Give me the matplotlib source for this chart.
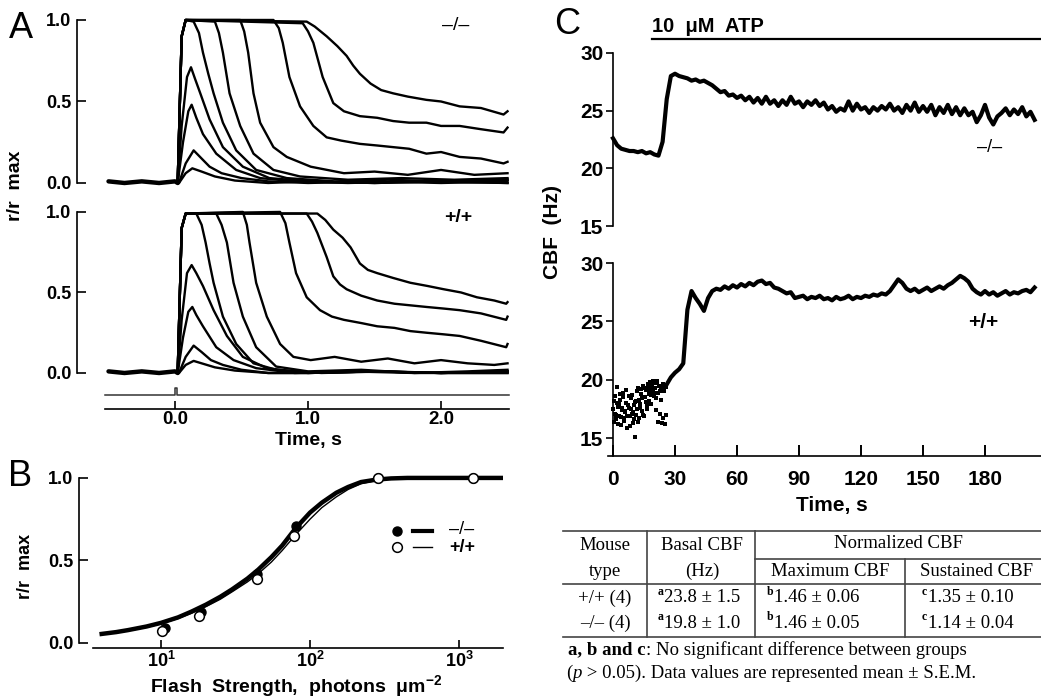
import numpy as np
import matplotlib
matplotlib.use("Agg")
import matplotlib.pyplot as plt
from matplotlib.lines import Line2D
import matplotlib.transforms as mtransforms

plt.rcParams['font.family'] = ['Liberation Sans', 'DejaVu Sans']
plt.rcParams['mathtext.fontset'] = 'custom'
plt.rcParams['mathtext.rm'] = 'Liberation Sans'
plt.rcParams['mathtext.bf'] = 'Liberation Sans:bold'
plt.rcParams['mathtext.it'] = 'Liberation Sans:italic'

# ---------------- Panel A data (normalized photoresponses, r/rmax) ----------------
base_t = [-0.50, -0.38, -0.25, -0.12, 0.0, 0.02]
base_r = [0.01, 0.0, 0.01, 0.0, 0.01, 0.0]

# -/- traces (top)
ko1_t = [0.03, 0.08, 0.13, 0.2, 0.3, 0.45, 0.7, 1.0, 1.5, 2.0, 2.5]
ko1_r = [0.0, 0.06, 0.09, 0.07, 0.04, 0.015, 0.0, 0.01, 0.0, 0.01, 0.0]
ko2_t = [0.03, 0.08, 0.14, 0.2, 0.26, 0.35, 0.5, 0.7, 1.0, 1.5, 2.0, 2.5]
ko2_r = [0.0, 0.12, 0.20, 0.15, 0.10, 0.06, 0.03, 0.01, 0.0, 0.01, 0.0, 0.01]
ko3_t = [0.02, 0.06, 0.10, 0.125, 0.16, 0.21, 0.31, 0.46, 0.64, 0.9, 1.3, 1.8, 2.5]
ko3_r = [0.0, 0.25, 0.44, 0.48, 0.40, 0.30, 0.18, 0.08, 0.03, 0.01, 0.0, 0.01, 0.0]
ko4_t = [0.02, 0.05, 0.09, 0.12, 0.15, 0.19, 0.26, 0.36, 0.51, 0.71, 1.0, 1.5, 2.0, 2.5]
ko4_r = [0.0, 0.35, 0.65, 0.71, 0.64, 0.55, 0.39, 0.22, 0.10, 0.03, 0.01, 0.0, 0.01, 0.02]
ko5_t = [0.02, 0.05, 0.08, 0.14, 0.18, 0.21, 0.25, 0.29, 0.36, 0.46, 0.61, 0.84, 1.2, 1.6, 2.0, 2.5]
ko5_r = [0.0, 0.9, 1.0, 0.99, 0.92, 0.80, 0.67, 0.55, 0.37, 0.20, 0.08, 0.03, 0.01, 0.02, 0.01, 0.02]
ko6_t = [0.02, 0.05, 0.08, 0.30, 0.33, 0.36, 0.41, 0.49, 0.59, 0.74, 0.94, 1.3, 1.7, 2.1, 2.5]
ko6_r = [0.0, 0.9, 1.0, 0.99, 0.92, 0.80, 0.55, 0.35, 0.18, 0.08, 0.04, 0.02, 0.03, 0.02, 0.03]
ko7_t = [0.02, 0.05, 0.08, 0.49, 0.52, 0.55, 0.59, 0.64, 0.74, 0.84, 1.02, 1.27, 1.5, 1.75, 2.0, 2.25, 2.5]
ko7_r = [0.0, 0.9, 1.0, 1.0, 0.93, 0.80, 0.55, 0.37, 0.22, 0.16, 0.10, 0.06, 0.07, 0.05, 0.08, 0.05, 0.06]
ko8_t = [0.02, 0.05, 0.08, 0.74, 0.78, 0.81, 0.86, 0.94, 1.04, 1.14, 1.25, 1.39, 1.52, 1.64,
         1.76, 1.89, 2.0, 2.14, 2.3, 2.47, 2.5]
ko8_r = [0.0, 0.9, 1.0, 1.0, 0.95, 0.86, 0.65, 0.47, 0.35, 0.28, 0.26, 0.24, 0.23, 0.22,
         0.21, 0.18, 0.19, 0.16, 0.15, 0.12, 0.13]
ko9_t = [0.02, 0.05, 0.08, 0.96, 1.0, 1.04, 1.11, 1.19, 1.27, 1.39, 1.52, 1.64, 1.76, 1.89,
         2.0, 2.14, 2.3, 2.47, 2.5]
ko9_r = [0.0, 0.9, 1.0, 0.98, 0.93, 0.86, 0.65, 0.49, 0.44, 0.41, 0.40, 0.38, 0.37, 0.37,
         0.35, 0.35, 0.33, 0.31, 0.34]
ko10_t = [0.02, 0.05, 0.08, 0.99, 1.05, 1.14, 1.22, 1.29, 1.34, 1.39, 1.47, 1.55, 1.64, 1.75,
          1.89, 2.0, 2.14, 2.3, 2.47, 2.5]
ko10_r = [0.0, 0.9, 1.0, 0.99, 0.96, 0.90, 0.84, 0.78, 0.72, 0.67, 0.61, 0.57, 0.55, 0.53,
          0.51, 0.50, 0.47, 0.46, 0.42, 0.44]

# +/+ traces (bottom)
wt1_t = [0.03, 0.08, 0.14, 0.2, 0.3, 0.45, 0.7, 1.0, 1.5, 2.0, 2.5]
wt1_r = [0.0, 0.05, 0.075, 0.06, 0.035, 0.015, 0.0, 0.0, 0.01, 0.0, 0.0]
wt2_t = [0.03, 0.08, 0.14, 0.2, 0.27, 0.36, 0.5, 0.7, 1.0, 1.5, 2.0, 2.5]
wt2_r = [0.0, 0.10, 0.17, 0.13, 0.08, 0.05, 0.02, 0.0, 0.0, 0.01, 0.0, 0.01]
wt3_t = [0.02, 0.06, 0.10, 0.13, 0.16, 0.21, 0.31, 0.44, 0.61, 0.9, 1.3, 1.8, 2.5]
wt3_r = [0.0, 0.22, 0.38, 0.41, 0.36, 0.29, 0.16, 0.08, 0.03, 0.0, 0.01, 0.0, 0.0]
wt4_t = [0.02, 0.05, 0.09, 0.125, 0.16, 0.21, 0.29, 0.39, 0.51, 0.69, 1.0, 1.5, 2.0, 2.5]
wt4_r = [0.0, 0.33, 0.62, 0.67, 0.62, 0.54, 0.39, 0.23, 0.10, 0.03, 0.0, 0.01, 0.0, 0.01]
wt5_t = [0.02, 0.05, 0.08, 0.16, 0.2, 0.23, 0.26, 0.29, 0.36, 0.46, 0.59, 0.76, 1.1, 1.6, 2.0, 2.5]
wt5_r = [0.0, 0.9, 0.99, 0.99, 0.92, 0.81, 0.68, 0.56, 0.35, 0.18, 0.06, 0.02, 0.0, 0.01, 0.0, 0.01]
wt6_t = [0.02, 0.05, 0.08, 0.31, 0.35, 0.39, 0.44, 0.51, 0.61, 0.76, 1.0, 1.4, 1.8, 2.2, 2.5]
wt6_r = [0.0, 0.9, 0.99, 0.99, 0.92, 0.81, 0.56, 0.35, 0.16, 0.04, 0.01, 0.02, 0.0, 0.01, 0.02]
wt7_t = [0.02, 0.05, 0.08, 0.51, 0.54, 0.56, 0.61, 0.69, 0.79, 0.89, 1.02, 1.2, 1.4, 1.6, 1.8,
         2.0, 2.2, 2.4, 2.5]
wt7_r = [0.0, 0.9, 0.99, 1.0, 0.92, 0.81, 0.56, 0.35, 0.18, 0.10, 0.08, 0.10, 0.07, 0.09, 0.06,
         0.08, 0.06, 0.05, 0.06]
wt8_t = [0.02, 0.05, 0.08, 0.79, 0.83, 0.86, 0.91, 0.99, 1.09, 1.18, 1.27, 1.4, 1.52, 1.65,
         1.77, 1.89, 2.02, 2.14, 2.3, 2.49, 2.5]
wt8_r = [0.0, 0.9, 0.99, 1.0, 0.93, 0.81, 0.62, 0.47, 0.39, 0.35, 0.33, 0.31, 0.29, 0.28,
         0.26, 0.25, 0.24, 0.23, 0.20, 0.16, 0.18]
wt9_t = [0.02, 0.05, 0.08, 0.99, 1.03, 1.07, 1.14, 1.19, 1.24, 1.29, 1.4, 1.52, 1.65, 1.77,
         1.89, 2.02, 2.14, 2.3, 2.49, 2.5]
wt9_r = [0.0, 0.9, 0.99, 0.99, 0.94, 0.87, 0.72, 0.60, 0.55, 0.52, 0.48, 0.45, 0.43, 0.42,
         0.41, 0.40, 0.39, 0.37, 0.33, 0.35]
wt10_t = [0.02, 0.05, 0.08, 1.07, 1.13, 1.19, 1.26, 1.32, 1.39, 1.45, 1.52, 1.64, 1.77, 1.9,
          2.02, 2.15, 2.27, 2.4, 2.49, 2.5]
wt10_r = [0.0, 0.9, 0.99, 0.99, 0.95, 0.89, 0.84, 0.78, 0.68, 0.64, 0.62, 0.59, 0.56, 0.54,
          0.52, 0.50, 0.47, 0.45, 0.43, 0.44]

flash_on, flash_off = 0.0, 0.012   # s, stimulus flash

# ---------------- Panel B data (intensity-response) ----------------
fit_I = [4, 5, 6, 8, 10, 13, 16, 20, 25, 30, 38, 45, 55, 65, 80, 100, 120, 150, 180, 220,
         280, 350, 450, 700, 2000]
ko_fit_r = [0.055, 0.066, 0.078, 0.10, 0.122, 0.155, 0.19, 0.232, 0.28, 0.325, 0.39, 0.445,
            0.52, 0.59, 0.695, 0.79, 0.85, 0.91, 0.945, 0.975, 0.99, 0.997, 1.0, 1.0, 1.0]
wt_fit_r = [0.052, 0.063, 0.074, 0.095, 0.116, 0.148, 0.18, 0.22, 0.265, 0.31, 0.37, 0.42,
            0.49, 0.56, 0.655, 0.75, 0.82, 0.885, 0.93, 0.965, 0.985, 0.995, 1.0, 1.0, 1.0]
ko_pts_I = [10.6, 18.5, 44, 80, 285, 1250]
ko_pts_r = [0.09, 0.185, 0.42, 0.71, 1.0, 1.0]
wt_pts_I = [10.2, 18, 44, 78, 285, 1250]
wt_pts_r = [0.075, 0.165, 0.39, 0.65, 1.0, 1.0]

# ---------------- Panel C data (ciliary beat frequency, Hz) ----------------
atp_start = 19.0
ko_cbf_dt = 2.0
ko_cbf = [22.6, 22.0, 21.7, 21.6, 21.5, 21.5, 21.4, 21.5, 21.3, 21.4,
          21.2, 21.1, 22.3, 26.0, 28.0, 28.2, 28.0, 27.9, 27.8, 27.6,
          27.7, 27.5, 27.6, 27.4, 27.2, 26.9, 26.6, 26.7, 26.3, 26.4,
          26.1, 26.3, 25.9, 26.2, 25.7, 26.1, 25.6, 26.2, 25.6, 25.9,
          25.4, 25.9, 25.5, 26.2, 25.6, 25.8, 25.3, 25.8, 25.5, 25.9,
          25.4, 25.7, 25.1, 25.4, 24.9, 25.2, 25.0, 25.8, 25.0, 25.6,
          25.1, 25.3, 24.8, 25.3, 25.0, 25.4, 25.1, 25.6, 25.0, 25.3,
          24.8, 25.5, 25.0, 25.7, 24.9, 25.4, 24.9, 25.5, 24.6, 25.3,
          24.8, 25.5, 24.7, 25.3, 24.6, 25.2, 24.6, 24.9, 24.0, 24.6,
          25.5, 24.4, 23.8, 24.5, 24.8, 25.2, 24.6, 25.1, 24.7, 25.3,
          24.5, 24.9, 24.2]

wt_basal_dt = 0.5
wt_basal_a = [17.5, 16.4, 18.6, 17.0, 19.4, 16.2, 17.9, 18.3, 16.8, 17.4,
              18.9, 16.5, 17.2, 18.0, 15.9, 17.6, 16.9, 18.4, 17.1, 16.3,
              17.8, 15.1, 18.2, 17.5, 19.3, 16.7, 17.9, 18.8, 17.3, 19.5,
              16.9, 18.5, 19.1, 17.8, 19.4, 18.2, 19.8, 18.7, 19.6, 19.9,
              18.9, 19.3, 17.4, 19.7, 16.4, 19.0, 18.3, 19.5, 16.7, 19.2,
              16.2, 19.4]
wt_basal_b = [18.2, 17.1, 16.6, 18.0, 17.7, 16.9, 18.8, 16.1, 17.6, 18.5,
              16.7, 17.3, 19.1, 16.9, 17.8, 18.6, 16.0, 17.5, 18.7, 17.2,
              16.6, 18.1, 17.0, 19.0, 16.4, 18.3, 17.6, 19.2, 18.4, 17.0,
              19.3, 18.1, 17.5, 19.6, 18.8, 19.1, 17.9, 19.4, 19.0, 18.6,
              19.7, 18.4, 19.9, 18.9, 19.5, 17.1, 19.3, 16.3, 19.6, 19.0,
              19.4, 17.0]
wt_cbf_start = 26.0
wt_cbf_dt = 2.0
wt_cbf = [19.6, 20.2, 20.6, 20.9, 21.4, 26.0, 27.6, 27.0, 26.5, 25.9,
          27.0, 27.6, 27.8, 27.7, 28.0, 27.8, 28.1, 27.9, 28.2, 28.0,
          28.3, 28.1, 28.4, 28.5, 28.2, 28.3, 27.9, 27.8, 27.6, 27.4,
          27.5, 27.0, 27.1, 27.2, 26.9, 27.1, 27.0, 27.2, 26.9, 27.0,
          26.8, 27.1, 26.9, 27.0, 27.2, 26.9, 27.1, 27.0, 27.2, 27.1,
          27.3, 27.2, 27.4, 27.3, 27.6, 28.1, 28.6, 28.3, 27.8, 27.6,
          27.8, 27.5, 27.7, 27.9, 27.6, 27.8, 28.0, 27.8, 28.1, 28.3,
          28.6, 28.9, 28.7, 28.4, 27.8, 27.5, 27.3, 27.6, 27.3, 27.5,
          27.2, 27.4, 27.6, 27.3, 27.5, 27.4, 27.6, 27.7, 27.5, 27.9]

# ---------------- Table data ----------------
tbl_mouse = ['+/+ (4)', '\u2013/\u2013 (4)']
tbl_basal = ['23.8 \u00b1 1.5', '19.8 \u00b1 1.0']
tbl_max = ['1.46 \u00b1 0.06', '1.46 \u00b1 0.05']
tbl_sust = ['1.35 \u00b1 0.10', '1.14 \u00b1 0.04']

# =====================================================================
W, H = 1041, 699
fig = plt.figure(figsize=(W / 100, H / 100), dpi=100)


def add_ax(l, t, r, b):
    return fig.add_axes([l / W, 1 - b / H, (r - l) / W, (b - t) / H])


def ftext(x, y, s, **kw):
    kw.setdefault('ha', 'center')
    kw.setdefault('va', 'center')
    return fig.text(x / W, 1 - y / H, s, **kw)


def fline(xs, ys, **kw):
    fig.add_artist(Line2D([x / W for x in xs], [1 - y / H for y in ys], **kw))


BOLD = dict(fontweight='bold')
LW_AX = 1.2

# ---------------- Panel A ----------------
ko_traces = [(ko1_t, ko1_r), (ko2_t, ko2_r), (ko3_t, ko3_r), (ko4_t, ko4_r), (ko5_t, ko5_r),
             (ko6_t, ko6_r), (ko7_t, ko7_r), (ko8_t, ko8_r), (ko9_t, ko9_r), (ko10_t, ko10_r)]
wt_traces = [(wt1_t, wt1_r), (wt2_t, wt2_r), (wt3_t, wt3_r), (wt4_t, wt4_r), (wt5_t, wt5_r),
             (wt6_t, wt6_r), (wt7_t, wt7_r), (wt8_t, wt8_r), (wt9_t, wt9_r), (wt10_t, wt10_r)]

axA1 = add_ax(77, 12, 509, 190)
axA2 = add_ax(77, 205, 509, 409)
axA1.set_ylim(-0.043, 1.049)
axA2.set_ylim(-0.2236, 1.043)
for ax, traces in ((axA1, ko_traces), (axA2, wt_traces)):
    ax.set_xlim(-0.737, 2.511)
    ax.plot(base_t, base_r, color='black', lw=3.2, solid_capstyle='round')
    for tt, rr in traces:
        ax.plot(base_t + tt, base_r + rr, color='black', lw=1.7)
    for s in ('top', 'right'):
        ax.spines[s].set_visible(False)
    ax.spines['left'].set_bounds(0, 1)
    ax.spines['left'].set_linewidth(LW_AX)
    ax.set_yticks([0, 0.5, 1.0])
    ax.set_yticklabels(['0.0', '0.5', '1.0'], fontweight='bold')
    ax.tick_params(axis='y', direction='in', length=6.5, width=LW_AX, labelsize=13, pad=4)
axA1.spines['bottom'].set_visible(False)
axA1.set_xticks([])
axA2.spines['bottom'].set_bounds(-0.53, 2.51)
axA2.spines['bottom'].set_linewidth(LW_AX)
axA2.set_xticks([0, 1, 2])
axA2.set_xticklabels(['0.0', '1.0', '2.0'], fontweight='bold')
axA2.tick_params(axis='x', direction='in', length=6, width=LW_AX, labelsize=13.5, pad=1.5)
# stimulus monitor trace
trA = mtransforms.blended_transform_factory(axA2.transData, axA2.transAxes)
axA2.plot([-0.53, flash_on, flash_on, flash_off, flash_off, 2.51],
          [0.0686, 0.0686, 0.103, 0.103, 0.0686, 0.0686],
          color='#333333', lw=1.1, transform=trA, clip_on=False)

ftext(21, 29, 'A', fontsize=26)
ftext(15, 186, 'r/r  max', rotation=90, fontsize=14, **BOLD)
ftext(456, 25, '\u2013/\u2013', fontsize=14)
ftext(458, 217, '+/+', fontsize=14, **BOLD)
ftext(308, 440, 'Time, s', fontsize=14, **BOLD)

# ---------------- Panel B ----------------
axB = add_ax(79, 470, 503, 648)
axB.set_xscale('log')
axB.set_xlim(2.817, 1972)
axB.set_ylim(-0.0303, 1.048)
axB.plot(fit_I, wt_fit_r, color='black', lw=1.0)
axB.plot(fit_I, ko_fit_r, color='black', lw=3.2)
axB.plot(ko_pts_I, ko_pts_r, 'o', color='black', ms=6.5, zorder=4)
axB.plot(wt_pts_I, wt_pts_r, 'o', mfc='white', mec='black', mew=1.1, ms=7, zorder=5)
for s in ('top', 'right'):
    axB.spines[s].set_visible(False)
axB.spines['left'].set_bounds(0, 1)
axB.spines['bottom'].set_bounds(3.5, 1972)
for s in ('left', 'bottom'):
    axB.spines[s].set_linewidth(LW_AX)
axB.set_yticks([0, 0.5, 1.0])
axB.set_yticklabels(['0.0', '0.5', '1.0'], fontweight='bold')
axB.set_xticks([10, 100, 1000])
axB.set_xticklabels([r'$\mathbf{10^{1}}$', r'$\mathbf{10^{2}}$', r'$\mathbf{10^{3}}$'])
axB.xaxis.set_minor_locator(matplotlib.ticker.NullLocator())
axB.tick_params(axis='y', direction='in', length=6.5, width=LW_AX, labelsize=13, pad=4)
axB.tick_params(axis='x', direction='in', length=6, width=LW_AX, labelsize=13, pad=2)

# legend
fline([397], [531], marker='o', color='black', ms=6.5, lw=0)
fline([413, 432], [531, 531], color='black', lw=3.0)
ftext(462, 529, '\u2013/\u2013', fontsize=13)
fline([397], [547], marker='o', mfc='white', mec='black', mew=1.1, ms=7, lw=0)
fline([413, 432], [547, 547], color='black', lw=1.0)
ftext(462, 547, '+/+', fontsize=13, **BOLD)

ftext(20, 476, 'B', fontsize=26)
ftext(25, 566, 'r/r  max', rotation=90, fontsize=13, **BOLD)
ftext(296, 686, 'Flash  Strength,  photons  \u03bcm' + r'$\mathbf{^{-2}}$',
      fontsize=14, **BOLD)

# ---------------- Panel C ----------------
XL = (-2.42, 207.1)
axC1 = add_ax(608, 48, 1041, 232)
axC2 = add_ax(608, 255, 1041, 456)
axC1.set_xlim(*XL)
axC2.set_xlim(*XL)
axC1.set_ylim(14.48, 30.43)
axC2.set_ylim(13.46, 30.69)

ko_time = np.arange(len(ko_cbf)) * ko_cbf_dt
axC1.plot(ko_time, ko_cbf, color='black', lw=3.0)
wt_time_a = np.arange(len(wt_basal_a)) * wt_basal_dt
wt_time_b = wt_time_a + wt_basal_dt / 2
axC2.plot(wt_time_a, wt_basal_a, 's', color='black', ms=2.2, mew=0)
axC2.plot(wt_time_b, wt_basal_b, 's', color='black', ms=2.2, mew=0)
wt_time = wt_cbf_start + np.arange(len(wt_cbf)) * wt_cbf_dt
axC2.plot(wt_time, wt_cbf, color='black', lw=3.0)

for ax in (axC1, axC2):
    for s in ('top', 'right'):
        ax.spines[s].set_visible(False)
    ax.spines['left'].set_position(('data', 0))
    ax.spines['left'].set_linewidth(LW_AX)
    ax.set_yticks([15, 20, 25, 30])
    ax.set_yticklabels(['15', '20', '25', '30'], fontweight='bold')
    ax.tick_params(axis='y', direction='out', length=5, width=LW_AX, labelsize=15, pad=2)
axC1.spines['left'].set_bounds(15, 30)
axC1.spines['bottom'].set_visible(False)
axC1.set_xticks([])
axC2.spines['left'].set_bounds(13.46, 30)
axC2.spines['bottom'].set_linewidth(LW_AX)
axC2.set_xticks([0, 30, 60, 90, 120, 150, 180])
axC2.set_xticklabels(['0', '30', '60', '90', '120', '150', '180'], fontweight='bold')
axC2.tick_params(axis='x', direction='in', length=8, width=1.4, labelsize=15, pad=10)

# ATP application bar
trC = mtransforms.blended_transform_factory(axC1.transData, fig.transFigure)
axC1.plot([atp_start, XL[1]], [1 - 39 / H, 1 - 39 / H], color='black', lw=1.6,
          transform=trC, clip_on=False)
axC1.text(atp_start, 1 - 26 / H, '10  \u03bcM  ATP', transform=trC, ha='left', va='center',
          fontsize=14.5, **BOLD)

ftext(567, 25, 'C', fontsize=26)
ftext(553, 232, 'CBF  (Hz)', rotation=90, fontsize=15, **BOLD)
ftext(990, 147, '\u2013/\u2013', fontsize=13)
ftext(983, 323, '+/+', fontsize=15, **BOLD)
ftext(832, 505, 'Time, s', fontsize=15, **BOLD)

# ---------------- Table ----------------
TC = '#444444'
for y in (531, 584, 637):
    fline([563, 1041], [y, y], color=TC, lw=1.2)
fline([755, 1041], [559, 559], color=TC, lw=1.2)
fline([647, 647], [531, 637], color=TC, lw=1.2)
fline([755, 755], [531, 637], color=TC, lw=1.2)
fline([905, 905], [559, 637], color=TC, lw=1.2)

SER = dict(family=['Liberation Serif', 'DejaVu Serif'], fontsize=13.5)
ftext(605, 546, 'Mouse', **SER)
ftext(605, 571, 'type', **SER)
ftext(702, 546, 'Basal CBF', **SER)
ftext(702, 571, '(Hz)', **SER)
ftext(898, 544, 'Normalized CBF', **SER)
ftext(830, 571, 'Maximum CBF', **SER)
ftext(976, 571, 'Sustained CBF', **SER)
SUP = dict(family=['Liberation Serif', 'DejaVu Serif'], fontsize=8.5, fontweight='bold')
for i, ry in enumerate((598, 623)):
    ftext(605, ry, tbl_mouse[i], **SER)
    ftext(663, ry - 6, 'a', ha='right', **SUP)
    ftext(664, ry, tbl_basal[i], ha='left', **SER)
    ftext(773, ry - 6, 'b', ha='right', **SUP)
    ftext(774, ry, tbl_max[i], ha='left', **SER)
    ftext(927, ry - 6, 'c', ha='right', **SUP)
    ftext(928, ry, tbl_sust[i], ha='left', **SER)


def text_run(x, y, pieces):
    r = fig.canvas.get_renderer()
    for s, kw in pieces:
        t = ftext(x, y, s, ha='left', **kw)
        x += t.get_window_extent(renderer=r).width


SERB = dict(SER, fontweight='bold')
SERI = dict(SER, style='italic')
text_run(568, 650, [('a, b and c', SERB), (': No significant difference between groups', SER)])
text_run(566, 673, [('(', SER), ('p', SERI),
                    (' > 0.05). Data values are represented mean \u00b1 S.E.M.', SER)])

fig.savefig('out.png', dpi=100)
